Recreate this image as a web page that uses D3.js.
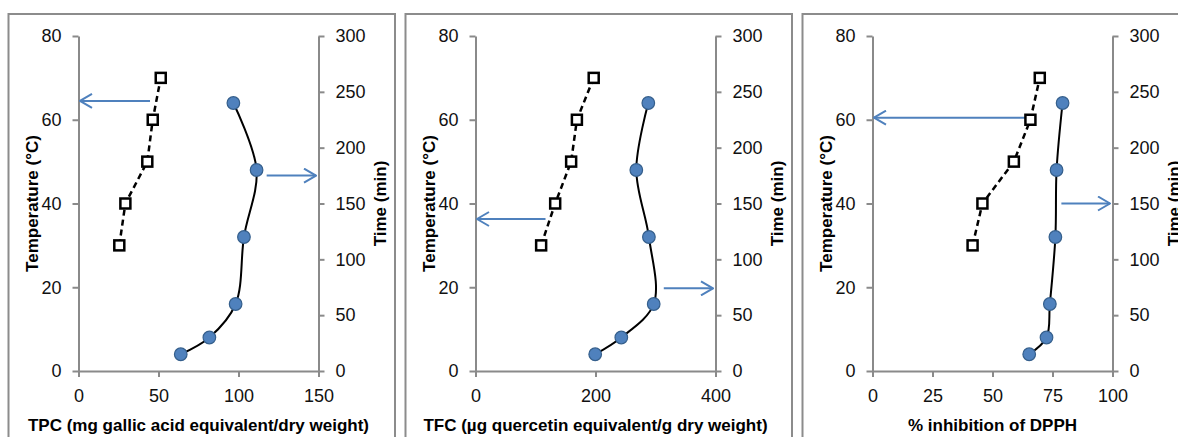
<!DOCTYPE html>
<html>
<head>
<meta charset="utf-8">
<script src="https://cdn.jsdelivr.net/npm/d3@7"></script>
<style>
  html, body { margin: 0; padding: 0; background: #fff; }
  svg { display: block; }
</style>
</head>
<body>
<svg id="chart" width="1178" height="437"></svg>
<script>
// ---------- data ----------
const temperatures = [30, 40, 50, 60, 70];          // °C (left axis)
const times = [15, 30, 60, 120, 180, 240];          // min (right axis)

const tpcVsTemp  = [25.5, 29.3, 43.0, 46.4, 51.4];
const tpcVsTime  = [63.9, 81.8, 98.2, 103.4, 111.3, 96.8];
const tfcVsTemp  = [109.4, 132.8, 159.4, 169.0, 197.0];
const tfcVsTime  = [199.5, 243.0, 297.0, 289.0, 268.0, 288.0];
const dpphVsTemp = [41.7, 45.8, 58.9, 65.8, 69.7];
const dpphVsTime = [65.3, 72.5, 73.9, 76.2, 76.7, 79.2];

const xDomains = [[0, 150], [0, 400], [0, 100]];
const xTicks = [[0, 50, 100, 150], [0, 200, 400], [0, 25, 50, 75, 100]];
const xTitles = [
  "TPC (mg gallic acid equivalent/dry weight)",
  "TFC (µg quercetin equivalent/g dry weight)",
  "% inhibition of DPPH"
];
const tempDomain = [0, 80];
const tempTicks = [0, 20, 40, 60, 80];
const timeDomain = [0, 300];
const timeTicks = [0, 50, 100, 150, 200, 250, 300];
const leftTitle = "Temperature (°C)";
const rightTitle = "Time (min)";

// arrows: [y value, x start value]
const leftArrows  = [[64.5, 44.7], [36.3, 116.7], [60.5, 65.5]];   // temperature, toward left axis
const rightArrows = [[175, 117.6], [74, 313.8], [150, 78.7]];      // time, toward right axis

const tempSeries = [tpcVsTemp, tfcVsTemp, dpphVsTemp];
const timeSeries = [tpcVsTime, tfcVsTime, dpphVsTime];

// ---------- drawing ----------
const svg = d3.select("#chart");
const axisColor = "#8a8a8a";
const textColor = "#111";
const blue = "#4f81bd";
const tickFont = "'Liberation Sans', Arial, sans-serif";

svg.append("defs").append("marker")
  .attr("id", "openArrow")
  .attr("viewBox", "0 0 14 16")
  .attr("refX", 13).attr("refY", 8)
  .attr("markerWidth", 14).attr("markerHeight", 16)
  .attr("markerUnits", "userSpaceOnUse")
  .attr("orient", "auto")
  .append("path")
  .attr("d", "M1,1 L13,8 L1,15")
  .attr("fill", "none").attr("stroke", blue).attr("stroke-width", 2);

const panelStep = 397;
for (let i = 0; i < 3; i++) {
  const ox = 8 + i * panelStep;
  const g = svg.append("g");

  // frame
  g.append("rect")
    .attr("x", ox + 0.5).attr("y", 14)
    .attr("width", 386.5).attr("height", 460)
    .attr("fill", "none").attr("stroke", "#8c8c8c").attr("stroke-width", 2);

  const x0 = ox + 70.5, x1 = ox + 310.5;
  const yTop = 36, yBot = 371;

  const x = d3.scaleLinear().domain(xDomains[i]).range([x0, x1]);
  const yT = d3.scaleLinear().domain(tempDomain).range([yBot, yTop]);
  const yM = d3.scaleLinear().domain(timeDomain).range([yBot, yTop]);

  function styleAxis(sel) {
    sel.selectAll("path.domain").attr("stroke", axisColor).attr("stroke-width", 2);
    sel.selectAll(".tick line").attr("stroke", axisColor).attr("stroke-width", 2);
    sel.selectAll(".tick text")
      .attr("fill", textColor)
      .style("font-family", tickFont)
      .style("font-size", "18px");
  }

  const gx = g.append("g").attr("transform", `translate(0,${yBot})`)
    .call(d3.axisBottom(x).tickValues(xTicks[i]).tickSize(6).tickSizeOuter(0).tickPadding(12).tickFormat(d3.format("d")));
  styleAxis(gx);

  const gl = g.append("g").attr("transform", `translate(${x0},0)`)
    .call(d3.axisLeft(yT).tickValues(tempTicks).tickSize(6).tickSizeOuter(0).tickPadding(11).tickFormat(d3.format("d")));
  styleAxis(gl);

  const gr = g.append("g").attr("transform", `translate(${x1},0)`)
    .call(d3.axisRight(yM).tickValues(timeTicks).tickSize(6).tickSizeOuter(0).tickPadding(11).tickFormat(d3.format("d")));
  styleAxis(gr);

  // titles
  const titleStyle = s => s.attr("fill", "#000")
    .style("font-family", "'Liberation Sans', Arial, sans-serif")
    .style("font-weight", "bold").style("font-size", "17px");

  g.append("text").attr("text-anchor", "middle")
    .attr("transform", `translate(${ox + 24},${(yTop + yBot) / 2}) rotate(-90)`)
    .attr("dy", "0.35em")
    .text(leftTitle).call(titleStyle);

  g.append("text").attr("text-anchor", "middle")
    .attr("transform", `translate(${ox + 372},${(yTop + yBot) / 2}) rotate(-90)`)
    .attr("dy", "0.35em")
    .text(rightTitle).call(titleStyle);

  g.append("text").attr("text-anchor", "middle")
    .attr("x", (x0 + x1) / 2).attr("y", 431)
    .text(xTitles[i]).call(titleStyle);

  // arrows
  const la = leftArrows[i];
  g.append("line")
    .attr("x1", x(la[1])).attr("x2", x(0) + 1.5)
    .attr("y1", yT(la[0])).attr("y2", yT(la[0]))
    .attr("stroke", blue).attr("stroke-width", 2)
    .attr("marker-end", "url(#openArrow)");
  const ra = rightArrows[i];
  g.append("line")
    .attr("x1", x(ra[1])).attr("x2", x(xDomains[i][1]) - 2.5)
    .attr("y1", yM(ra[0])).attr("y2", yM(ra[0]))
    .attr("stroke", blue).attr("stroke-width", 2)
    .attr("marker-end", "url(#openArrow)");

  // temperature series (dashed, squares)
  const tData = temperatures.map((t, k) => ({ v: tempSeries[i][k], t }));
  g.append("path")
    .datum(tData)
    .attr("d", d3.line().x(d => x(d.v)).y(d => yT(d.t)))
    .attr("fill", "none").attr("stroke", "#000").attr("stroke-width", 2.5)
    .attr("stroke-dasharray", "6,4");
  g.selectAll("rect.sq").data(tData).enter().append("rect")
    .attr("class", "sq")
    .attr("x", d => x(d.v) - 5).attr("y", d => yT(d.t) - 5)
    .attr("width", 10).attr("height", 10)
    .attr("fill", "#fff").attr("stroke", "#000").attr("stroke-width", 2.5);

  // time series (smooth, circles)
  const mData = times.map((t, k) => ({ v: timeSeries[i][k], t }));
  g.append("path")
    .datum(mData)
    .attr("d", d3.line().curve(d3.curveCatmullRom.alpha(0.5)).x(d => x(d.v)).y(d => yM(d.t)))
    .attr("fill", "none").attr("stroke", "#000").attr("stroke-width", 2);
  g.selectAll("circle.pt").data(mData).enter().append("circle")
    .attr("class", "pt")
    .attr("cx", d => x(d.v)).attr("cy", d => yM(d.t))
    .attr("r", 6.3)
    .attr("fill", blue).attr("stroke", "#355f8c").attr("stroke-width", 1.2);
}
</script>
</body>
</html>
